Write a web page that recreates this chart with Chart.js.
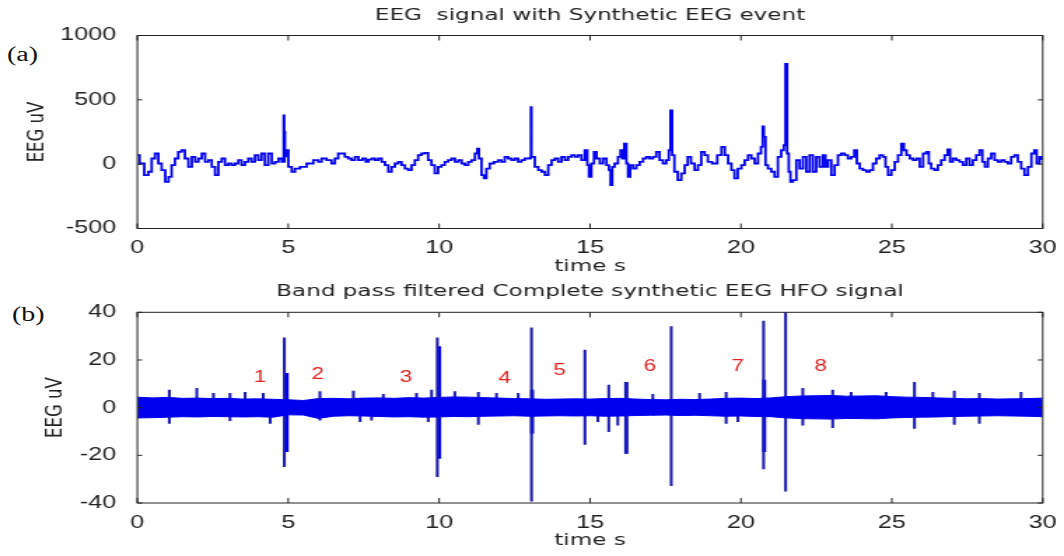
<!DOCTYPE html>
<html>
<head>
<meta charset="utf-8">
<title>EEG signal with synthetic EEG events</title>
<script src="https://cdn.jsdelivr.net/npm/chart.js@4/dist/chart.umd.min.js"></script>
<style>
    body { margin: 0; background: #fff; width: 1064px; height: 556px; position: relative; overflow: hidden; }
    canvas { position: absolute; left: 0; }
    .panel { position: absolute; font-family: "Liberation Serif", "Times New Roman", serif; font-size: 20px; line-height: 20px; color: #111; transform: scaleX(1.4); transform-origin: left top; }
</style>
</head>
<body>
<div class="panel" style="left:7px; top:44px;">(a)</div>
<div class="panel" style="left:12px; top:304px;">(b)</div>
<!-- drawn narrow, shown stretched like the original figure -->
<canvas id="eegChart" width="760" height="280" style="top:0; width:1064px; height:280px;"></canvas>
<canvas id="hfoChart" width="760" height="276" style="top:280px; width:1064px; height:276px;"></canvas>
<script>
// ---- data ----
const timeTicks = [0, 5, 10, 15, 20, 25, 30];
const eegTicks = [-500, 0, 500, 1000];
const hfoTicks = [-40, -20, 0, 20, 40];

// (a) raw EEG, time in s / amplitude in uV
const eegTime = [
    0.00, 0.15, 0.31, 0.42, 0.53, 0.64, 0.75, 0.86, 0.99, 1.08,
    1.19, 1.30, 1.41, 1.52, 1.63, 1.75, 1.86, 1.97, 2.08, 2.19,
    2.30, 2.41, 2.52, 2.63, 2.74, 2.85, 2.96, 3.07, 3.18, 3.29,
    3.40, 3.51, 3.62, 3.73, 3.84, 3.95, 4.06, 4.17, 4.28, 4.40,
    4.51, 4.62, 4.73, 4.84, 4.86, 4.87, 4.88, 4.90, 4.95, 5.06,
    5.17, 5.28, 5.50, 5.72, 5.94, 6.05, 6.16, 6.38, 6.49, 6.60,
    6.71, 6.82, 6.93, 7.04, 7.15, 7.27, 7.38, 7.54, 7.60, 7.71,
    7.82, 7.93, 8.04, 8.15, 8.26, 8.37, 8.48, 8.59, 8.70, 8.81,
    8.92, 9.03, 9.14, 9.25, 9.36, 9.47, 9.58, 9.69, 9.80, 9.91,
    10.02, 10.13, 10.24, 10.35, 10.47, 10.58, 10.69, 10.80, 10.91, 11.02,
    11.13, 11.24, 11.29, 11.35, 11.46, 11.51, 11.62, 11.73, 11.90, 12.01,
    12.12, 12.23, 12.34, 12.45, 12.56, 12.67, 12.78, 12.89, 13.00, 13.03,
    13.05, 13.07, 13.11, 13.23, 13.34, 13.45, 13.56, 13.67, 13.78, 13.89,
    14.00, 14.11, 14.22, 14.33, 14.44, 14.55, 14.66, 14.77, 14.88, 14.94,
    14.99, 15.10, 15.16, 15.27, 15.38, 15.49, 15.60, 15.65, 15.71, 15.76,
    15.87, 15.98, 16.04, 16.09, 16.18, 16.23, 16.29, 16.37, 16.48, 16.59,
    16.70, 16.81, 16.92, 17.03, 17.14, 17.25, 17.36, 17.47, 17.58, 17.64,
    17.69, 17.75, 17.84, 17.97, 18.08, 18.19, 18.28, 18.41, 18.52, 18.63,
    18.74, 18.85, 18.96, 19.13, 19.30, 19.41, 19.52, 19.63, 19.74, 19.83,
    19.96, 20.07, 20.18, 20.29, 20.40, 20.51, 20.62, 20.71, 20.73, 20.79,
    20.84, 20.95, 21.06, 21.17, 21.28, 21.39, 21.45, 21.50, 21.56, 21.61,
    21.67, 21.78, 21.89, 22.00, 22.11, 22.22, 22.33, 22.44, 22.55, 22.66,
    22.77, 22.83, 22.94, 23.05, 23.16, 23.27, 23.38, 23.49, 23.60, 23.71,
    23.80, 23.88, 23.99, 24.10, 24.21, 24.32, 24.43, 24.54, 24.65, 24.76,
    24.82, 24.93, 25.04, 25.15, 25.26, 25.37, 25.43, 25.54, 25.65, 25.76,
    25.87, 25.98, 26.09, 26.20, 26.25, 26.36, 26.47, 26.58, 26.69, 26.81,
    26.89, 26.97, 27.08, 27.19, 27.30, 27.41, 27.52, 27.63, 27.74, 27.85,
    27.96, 28.04, 28.13, 28.24, 28.35, 28.46, 28.57, 28.68, 28.79, 28.90,
    29.01, 29.12, 29.23, 29.34, 29.45, 29.57, 29.68, 29.76, 29.84, 29.95,
    30.00
];
const eegValue = [
    70, 5, -85, -59, 44, 83, 5, -46, -137, -98,
    -8, 44, 95, 108, 44, -21, 57, 18, 44, 83,
    18, 31, -21, -85, 18, 44, -8, 5, -8, 5,
    31, -8, 18, 44, 18, 70, 31, 83, -8, 83,
    5, 18, 44, 18, 379, 20, 250, 60, 108, -21,
    -59, -34, -21, 5, 31, 18, 44, 31, 5, 44,
    83, 83, 57, 44, 31, 57, 31, 44, 18, 36,
    44, 31, 44, 18, -8, -59, -21, 5, 18, -8,
    -34, -46, -8, 31, 70, 83, 88, 31, -8, -72,
    -21, -8, 18, 31, 44, 18, 31, 5, -8, 18,
    31, 83, 121, 44, -85, -111, -34, 5, 18, 31,
    18, 57, 44, 31, 44, 18, 31, 44, 44, 50,
    444, 57, 57, -21, -46, -59, -85, -8, 31, 44,
    18, 57, 31, 57, 70, 57, 70, 31, 108, -8,
    -98, 5, 95, 44, 5, 44, -8, -46, -163, -21,
    5, 57, 108, 44, 160, 5, -98, -8, -34, -8,
    18, 44, 57, 44, 57, 95, 31, 5, 31, 108,
    418, 70, -59, -124, -72, -8, 57, 5, -46, -8,
    95, 70, 18, 5, 70, 134, 70, 5, -46, -111,
    -34, -8, 31, 70, 44, 5, 83, 134, 294, 212,
    -8, -34, -59, -98, 57, 108, 147, 779, 83, -59,
    -137, -124, 31, -34, 57, -59, 70, -59, 57, -21,
    70, -21, 31, -85, -8, 70, 83, 70, 44, 57,
    108, 5, -34, -46, -59, -46, 5, 44, 70, 57,
    -21, -85, -46, 18, 70, 160, 108, 70, 44, 31,
    44, -21, 83, 95, 5, -34, -46, -8, 31, 70,
    114, 18, 44, 31, 18, -8, 44, -8, 31, 70,
    108, 18, -21, 44, 83, 31, 18, 31, 18, 5,
    57, 70, 18, -34, -85, -21, 83, 108, 5, 57,
    40
];

// (b) band pass filtered signal: envelope of the dense noise band
const bandTime = [
    0, 0.5, 1, 1.5, 2, 2.5, 3, 3.5, 4, 4.5,
    5, 5.5, 6, 6.5, 7, 7.5, 8, 8.5, 9, 9.5,
    10, 10.5, 11, 11.5, 12, 12.5, 13, 13.5, 14, 14.5,
    15, 15.5, 16, 16.5, 17, 17.5, 18, 18.5, 19, 19.5,
    20, 20.5, 21, 21.5, 22, 22.5, 23, 23.5, 24, 24.5,
    25, 25.5, 26, 26.5, 27, 27.5, 28, 28.5, 29, 29.5,
    30
];
const bandTop = [
    4.4, 4.1, 4.3, 3.9, 4.0, 3.8, 3.9, 3.6, 3.7, 3.5,
    3.3, 3.0, 3.8, 3.9, 3.7, 4.0, 4.1, 3.9, 4.2, 4.0,
    4.3, 4.5, 4.4, 4.2, 4.0, 3.8, 3.7, 3.5, 3.6, 3.7,
    3.6, 3.8, 3.9, 3.6, 3.4, 3.3, 3.5, 3.4, 3.6, 3.9,
    4.0, 3.8, 4.1, 4.6, 4.9, 5.0, 5.1, 4.8, 4.9, 5.0,
    4.6, 4.4, 4.3, 4.1, 3.9, 3.7, 3.8, 3.6, 3.7, 3.8,
    4.0
];
const bandBottom = [
    -4.3, -4.2, -4.0, -3.8, -3.9, -3.7, -3.8, -3.9, -3.8, -4.0,
    -3.0, -3.1, -4.5, -3.6, -3.4, -3.5, -3.7, -3.9, -3.8, -4.0,
    -3.9, -3.7, -3.8, -3.6, -3.5, -3.4, -3.6, -3.5, -3.4, -3.5,
    -3.4, -3.6, -3.5, -3.3, -3.2, -3.1, -3.3, -3.2, -3.4, -3.6,
    -3.5, -3.7, -3.8, -4.3, -4.6, -4.7, -4.8, -4.5, -4.6, -4.7,
    -4.3, -4.1, -4.0, -3.9, -3.7, -3.6, -3.5, -3.4, -3.5, -3.6,
    -3.8
];

// spikes and small excursions sticking out of the band
const spikeTime = [
    1.06, 1.97, 2.52, 3.07, 3.57, 4.17, 4.40, 4.87, 6.05, 7.16,
    7.38, 7.76, 8.15, 9.25, 9.64, 9.75, 9.94, 10.52, 11.30, 11.90,
    12.62, 13.06, 14.83, 15.26, 15.62, 15.92, 16.20, 17.08, 17.69, 18.63,
    19.51, 19.90, 20.75, 21.48, 22.05, 23.04, 23.65, 24.81, 25.75, 26.36,
    27.07, 27.90, 29.28
];
const spikeHigh = [
    7.4, 8.1, 6.0, 6.0, 6.4, 6.0, 3.0, 29.3, 6.7, 7.0,
    3.0, 3.0, 5.6, 6.0, 3.0, 7.4, 29.3, 6.7, 6.4, 6.0,
    6.0, 33.5, 24.2, 3.0, 9.5, 3.0, 10.6, 5.6, 34.0, 6.0,
    6.4, 3.0, 36.3, 40.0, 8.1, 7.4, 6.4, 6.4, 10.6, 6.4,
    7.0, 6.0, 6.4
];
const spikeLow = [
    -6.6, -3.0, -3.0, -5.5, -3.0, -3.0, -6.6, -24.8, -5.2, -3.0,
    -5.9, -5.2, -3.0, -3.0, -5.9, -3.0, -29.0, -3.0, -7.0, -3.0,
    -3.0, -39.2, -15.4, -5.9, -10.1, -7.3, -19.2, -3.0, -32.7, -3.0,
    -6.6, -5.9, -25.7, -35.0, -7.3, -8.4, -3.0, -3.0, -8.7, -3.0,
    -7.0, -6.6, -3.0
];
// thicker burst parts next to the main spikes
const burstTime = [4.95, 10.00, 13.08, 16.20, 20.77];
const burstHigh = [14.4, 25.6, 7.4, 10.6, 11.6];
const burstLow = [-18.5, -21.3, -10.8, -19.2, -18.5];

// numbered HFO events
const eventText = ['1', '2', '3', '4', '5', '6', '7', '8'];
const eventTime = [4.06, 5.98, 8.90, 12.17, 13.99, 16.98, 19.89, 22.64];
const eventLevel = [12.6, 13.9, 12.4, 12.0, 15.4, 17.1, 17.1, 17.1];

// ---- styling ----
const SANS = '"Liberation Sans", Arial, sans-serif';
const WIDE = '"DejaVu Sans", sans-serif';
const INK = '#222';
const BLUE = '#0000ee';
const SPIKE_BLUE = '#1c1cb0';

function toPoints(xs, ys) {
    return xs.map((x, i) => ({ x: x, y: ys[i] }));
}

// MATLAB style box with inward ticks on all four sides
const matlabBox = {
    id: 'matlabBox',
    afterDatasetsDraw(chart) {
        const { ctx, chartArea: a, scales: { x, y } } = chart;
        ctx.save();
        ctx.strokeStyle = INK;
        ctx.lineWidth = 1;
        ctx.strokeRect(a.left, a.top, a.right - a.left, a.bottom - a.top);
        ctx.beginPath();
        x.ticks.forEach(t => {
            const px = x.getPixelForValue(t.value);
            ctx.moveTo(px, a.bottom); ctx.lineTo(px, a.bottom - 5);
            ctx.moveTo(px, a.top); ctx.lineTo(px, a.top + 5);
        });
        y.ticks.forEach(t => {
            const py = y.getPixelForValue(t.value);
            ctx.moveTo(a.left, py); ctx.lineTo(a.left + 3.5, py);
            ctx.moveTo(a.right, py); ctx.lineTo(a.right - 3.5, py);
        });
        ctx.stroke();
        ctx.restore();
    }
};

// red event numbers in panel (b)
const eventLabels = {
    id: 'eventLabels',
    afterDatasetsDraw(chart) {
        const { ctx, scales: { x, y } } = chart;
        ctx.save();
        ctx.fillStyle = '#e32222';
        ctx.font = '16px ' + SANS;
        ctx.textAlign = 'center';
        ctx.textBaseline = 'middle';
        eventText.forEach((txt, i) => {
            ctx.fillText(txt, x.getPixelForValue(eventTime[i]), y.getPixelForValue(eventLevel[i]));
        });
        ctx.restore();
    }
};

function axes(yTicks, yMin, yMax, yTitlePad, xHeight, xTitlePad) {
    return {
        x: {
            type: 'linear', min: 0, max: 30, offset: false,
            afterBuildTicks: s => { s.ticks = timeTicks.map(v => ({ value: v })); },
            ticks: { color: INK, font: { family: SANS, size: 18 }, padding: 1, maxRotation: 0, callback: v => String(v) },
            grid: { display: false },
            border: { display: false },
            title: { display: true, text: 'time s', color: INK, font: { family: WIDE, size: 16.5 }, padding: { top: 0, bottom: xTitlePad } },
            afterFit: s => { s.height = xHeight; }
        },
        y: {
            type: 'linear', min: yMin, max: yMax,
            afterBuildTicks: s => { s.ticks = yTicks.map(v => ({ value: v })); },
            ticks: { color: INK, font: { family: SANS, size: 18 }, padding: 7, callback: v => String(v) },
            grid: { display: false },
            border: { display: false },
            title: { display: true, text: 'EEG uV', color: INK, font: { family: WIDE, size: 16.5 }, padding: { top: yTitlePad, bottom: 0 } },
            afterFit: s => { s.width = 98.1; }
        }
    };
}

function titleOpts(text, top, bottom) {
    return {
        display: true, text: text, color: INK, fullSize: false,
        font: { family: WIDE, size: 16.5, weight: 'normal' },
        padding: { top: top, bottom: bottom }
    };
}

// (a) EEG signal
new Chart(document.getElementById('eegChart'), {
    type: 'line',
    data: {
        datasets: [{
            data: toPoints(eegTime, eegValue),
            borderColor: BLUE,
            borderWidth: 1.8,
            pointRadius: 0,
            stepped: 'middle',
            fill: false
        }]
    },
    options: {
        responsive: false,
        animation: false,
        devicePixelRatio: 1,
        events: [],
        layout: { padding: { left: 0, right: 15.2, top: 0, bottom: 0 } },
        plugins: {
            legend: { display: false },
            tooltip: { enabled: false },
            title: titleOpts('EEG  signal with Synthetic EEG event', 6.1, 9.6)
        },
        scales: axes(eegTicks, -500, 1000, 16.5, 51.5, 3.5)
    },
    plugins: [matlabBox]
});

// (b) band pass filtered HFO signal
new Chart(document.getElementById('hfoChart'), {
    type: 'line',
    data: {
        datasets: [{
            data: toPoints(bandTime, bandTop),
            borderColor: BLUE,
            backgroundColor: BLUE,
            borderWidth: 1,
            pointRadius: 0,
            tension: 0,
            fill: '+1'
        }, {
            data: toPoints(bandTime, bandBottom),
            borderColor: BLUE,
            borderWidth: 1,
            pointRadius: 0,
            tension: 0,
            fill: false
        }, {
            type: 'bar',
            data: spikeTime.map((t, i) => ({ x: t, y: [spikeLow[i], spikeHigh[i]] })),
            backgroundColor: SPIKE_BLUE,
            borderWidth: 0,
            barThickness: 1.4,
            grouped: false
        }, {
            type: 'bar',
            data: burstTime.map((t, i) => ({ x: t, y: [burstLow[i], burstHigh[i]] })),
            backgroundColor: BLUE,
            borderWidth: 0,
            barThickness: 2.2,
            grouped: false
        }]
    },
    options: {
        responsive: false,
        animation: false,
        devicePixelRatio: 1,
        events: [],
        layout: { padding: { left: 0, right: 15.2, top: 0, bottom: 0 } },
        plugins: {
            legend: { display: false },
            tooltip: { enabled: false },
            title: titleOpts('Band pass filtered Complete synthetic EEG HFO signal', 1.6, 10.9)
        },
        scales: axes(hfoTicks, -40, 40, 30, 53, 5)
    },
    plugins: [matlabBox, eventLabels]
});
</script>
</body>
</html>
